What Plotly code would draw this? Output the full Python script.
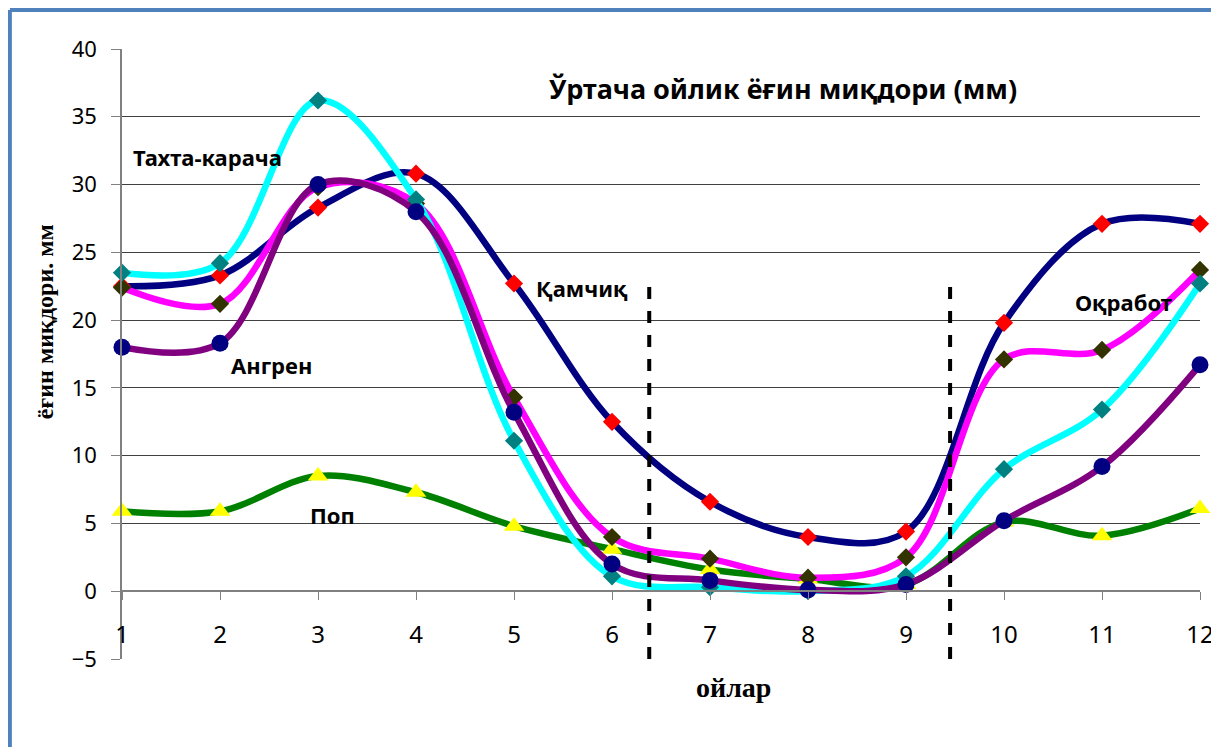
import plotly.graph_objects as go

months = [1, 2, 3, 4, 5, 6, 7, 8, 9, 10, 11, 12]
month_labels = [str(m) for m in months]

# Series values (mm)
kamchik = [22.5, 23.3, 28.3, 30.8, 22.7, 12.5, 6.6, 4.0, 4.4, 19.8, 27.1, 27.1]
okrabot = [22.4, 21.2, 29.8, 28.6, 14.3, 4.0, 2.4, 1.0, 2.5, 17.1, 17.8, 23.7]
takhta = [23.5, 24.2, 36.2, 28.9, 11.1, 1.1, 0.3, 0.0, 1.1, 9.0, 13.4, 22.7]
angren = [18.0, 18.3, 30.0, 28.0, 13.2, 2.0, 0.8, 0.1, 0.5, 5.2, 9.2, 16.7]
pop = [5.9, 5.9, 8.5, 7.3, 4.8, 3.1, 1.6, 0.9, 0.5, 5.1, 4.1, 6.1]

series = [
    ("Поп", pop, "#008000", "#FFFF00", "triangle-up", 18),
    ("Қамчиқ", kamchik, "#000080", "#FF0000", "diamond", 14),
    ("Оқработ", okrabot, "#FF00FF", "#333300", "diamond", 14),
    ("Тахта-карача", takhta, "#00FFFF", "#008080", "diamond", 14),
    ("Ангрен", angren, "#800080", "#000080", "circle", 17),
]

# Series name labels placed in the plot (x, y in data units)
label_names = ["Тахта-карача", "Ангрен", "Қамчиқ", "Поп", "Оқработ"]
label_x = [1.87, 2.53, 5.69, 3.15, 11.22]
label_y = [32.0, 16.7, 22.4, 5.6, 21.3]

# Season boundary dashed lines
boundary_x = [6.38, 9.45]
boundary_top = 23.0

title_text = "Ўртача ойлик ёғин миқдори (мм)"
y_title = "ёғин миқдори. мм"
x_title = "ойлар"

y_min, y_max = -5, 40

fig = go.Figure()
for name, vals, lc, mc, sym, ms in series:
    fig.add_trace(go.Scatter(
        x=months, y=vals, name=name, mode="lines+markers",
        line=dict(color=lc, width=6.5, shape="spline", smoothing=1.0),
        marker=dict(color=mc, symbol=sym, size=ms, line=dict(width=0)),
        cliponaxis=False, showlegend=False,
    ))

for bx in boundary_x:
    fig.add_shape(type="line", xref="x", yref="y", x0=bx, x1=bx,
                  y0=y_min, y1=boundary_top,
                  line=dict(color="black", width=4, dash="dash"))

# outer frame (left and top edges visible)
frame_color = "#4F81BD"
fig.add_shape(type="line", xref="paper", yref="paper",
              x0=-0.104, x1=-0.104, y0=-0.2, y1=1.064,
              line=dict(color=frame_color, width=4))
fig.add_shape(type="line", xref="paper", yref="paper",
              x0=-0.104, x1=1.05, y0=1.064, y1=1.064,
              line=dict(color=frame_color, width=4))

sans = "Noto Sans"
serif = "Liberation Serif"

for t, lx, ly in zip(label_names, label_x, label_y):
    fig.add_annotation(x=lx, y=ly, xref="x", yref="y", text="<b>" + t + "</b>",
                       showarrow=False, font=dict(family=sans, size=22, color="black"))

fig.add_annotation(x=7.74, y=37.1, xref="x", yref="y", text="<b>" + title_text + "</b>",
                   showarrow=False, font=dict(family=sans, size=27, color="black"))

fig.add_annotation(x=-0.0714, y=0.552, xref="paper", yref="paper", text="<b>" + y_title + "</b>",
                   textangle=-90, showarrow=False, xanchor="center", yanchor="middle",
                   font=dict(family=serif, size=24, color="black"))
fig.add_annotation(x=0.567, y=-0.0475, xref="paper", yref="paper", text="<b>" + x_title + "</b>",
                   showarrow=False, xanchor="center", yanchor="middle",
                   font=dict(family=serif, size=28, color="black"))

fig.update_layout(
    width=1219, height=747,
    margin=dict(l=114, r=27, t=41, b=96, autoexpand=False),
    paper_bgcolor="white", plot_bgcolor="white",
    xaxis=dict(range=[1, 12], tickvals=months, ticktext=month_labels,
               anchor="free", position=(0 - y_min) / (y_max - y_min),
               showline=True, linecolor="#808080", linewidth=1.5,
               ticks="outside", ticklen=8, tickcolor="#808080",
               showgrid=False, zeroline=False, ticklabelstandoff=14,
               automargin=False, ticklabeloverflow="allow",
               tickfont=dict(family=sans, size=24, color="black")),
    yaxis=dict(range=[y_min, y_max], dtick=5, tick0=0,
               showline=True, linecolor="#808080", linewidth=1.5,
               ticks="outside", ticklen=9, tickcolor="#808080",
               showgrid=True, gridcolor="#404040", gridwidth=1.2,
               zeroline=False, ticklabelstandoff=10, automargin=False,
               tickfont=dict(family=sans, size=22, color="black")),
)

fig.write_html("out.html")
